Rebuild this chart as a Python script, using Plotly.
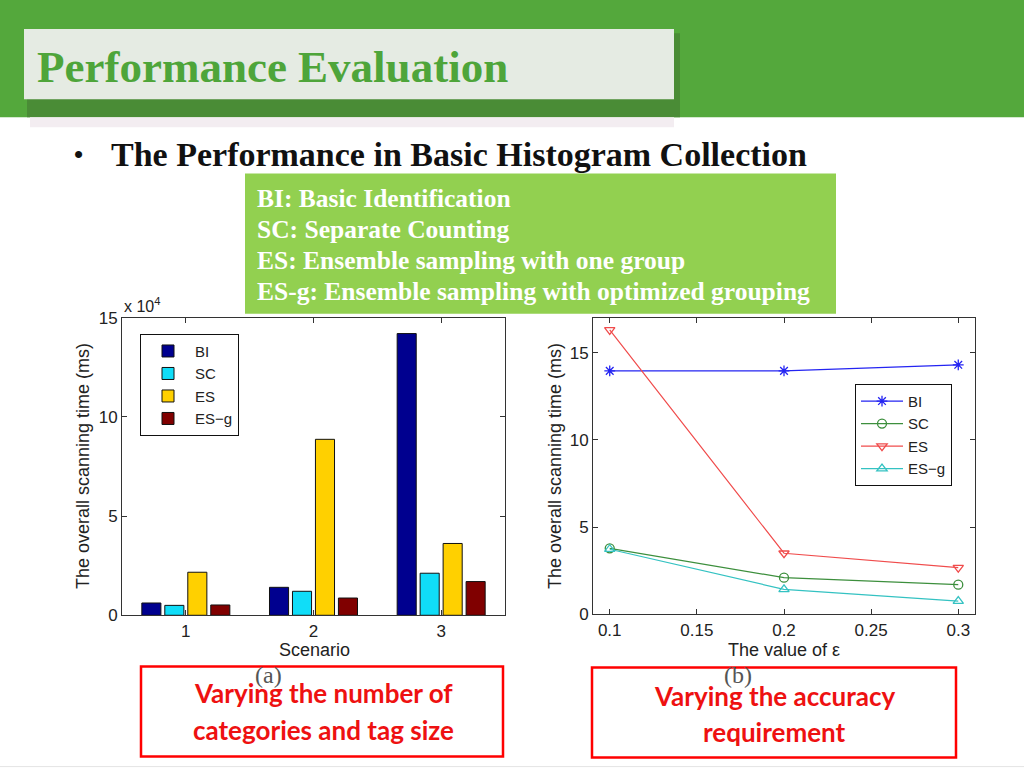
import plotly.graph_objects as go

W, H = 1024, 790

# ---------------- data ----------------
scenarios = [1, 2, 3]
scenario_ticks = ["1", "2", "3"]
bi_time = [0.62, 1.41, 14.2]      # x 10^4 ms
sc_time = [0.50, 1.21, 2.12]
es_time = [2.17, 8.87, 3.62]
esg_time = [0.52, 0.87, 1.70]

eps_values = [0.1, 0.2, 0.3]
eps_ticks = [0.1, 0.15, 0.2, 0.25, 0.3]
eps_tick_labels = ["0.1", "0.15", "0.2", "0.25", "0.3"]
bi_eps = [13.95, 13.95, 14.3]
sc_eps = [3.78, 2.1, 1.7]
es_eps = [16.3, 3.5, 2.67]
esg_eps = [3.73, 1.43, 0.76]
y_ticks = [0, 5, 10, 15]

series_names = ["BI", "SC", "ES", "ES\u2212g"]
bar_colors = ["#00008F", "#10DDF8", "#FFD000", "#800000"]
line_colors = ["#2424F2", "#3D8F3D", "#F04C4C", "#34C2C2"]
line_symbols = ["asterisk-open", "circle-open", "triangle-down-open", "triangle-up-open"]

# vertical correction for the capture (figure is shifted up by FIG_TOP px)
Y_OFF, Y_SCALE, FIG_TOP = 8.7, 0.974, 9

def px(x):
    return x / W

def py(y):
    yf = (y - Y_OFF) / Y_SCALE + FIG_TOP
    return min(1.0, max(0.0, 1 - yf / H))

fig = go.Figure()

# ---------------- bar chart (a) ----------------
for name, vals, col in zip(series_names, [bi_time, sc_time, es_time, esg_time], bar_colors):
    fig.add_trace(go.Bar(
        x=scenarios, y=vals, name=name, marker=dict(color=col, line=dict(color="#111", width=1)),
        xaxis="x", yaxis="y", legend="legend", showlegend=True))

# ---------------- line chart (b) ----------------
for name, vals, col, sym in zip(series_names, [bi_eps, sc_eps, es_eps, esg_eps], line_colors, line_symbols):
    fig.add_trace(go.Scatter(
        x=eps_values, y=vals, name=name, mode="lines+markers",
        line=dict(color=col, width=1.2),
        marker=dict(symbol=sym, size=9, color=col, line=dict(color=col, width=1.3)),
        xaxis="x2", yaxis="y2", legend="legend2"))

axis_common = dict(showline=True, linecolor="#333", linewidth=1, mirror="ticks",
                   ticks="inside", ticklen=5, tickcolor="#333", showgrid=False,
                   zeroline=False, tickfont=dict(family="Liberation Sans", size=17, color="#222"))

fig.update_layout(
    width=W, height=H, margin=dict(l=0, r=0, t=0, b=0),
    paper_bgcolor="white", plot_bgcolor="rgba(0,0,0,0)",
    barmode="group", bargap=0.28, bargroupgap=0.17,
    font=dict(family="Liberation Sans", color="#222"),
    xaxis=dict(domain=[px(122), px(505)], range=[0.5, 3.5], tickvals=scenarios,
               ticktext=scenario_ticks, anchor="y", **axis_common),
    yaxis=dict(domain=[py(614), py(317)], range=[0, 15], tickvals=y_ticks, anchor="x",
               **axis_common),
    xaxis2=dict(domain=[px(593), px(975)], range=[0.0904, 0.3096], tickvals=eps_ticks,
                ticktext=eps_tick_labels, anchor="y2", **axis_common),
    yaxis2=dict(domain=[py(613), py(317)], range=[0, 17], tickvals=y_ticks, anchor="x2",
                **axis_common),
    legend=dict(x=px(140), y=py(333), xanchor="left", yanchor="top",
                bordercolor="#111", borderwidth=1, bgcolor="white",
                font=dict(family="Liberation Sans", size=15, color="#222"),
                tracegroupgap=0, itemwidth=44),
    legend2=dict(x=px(855), y=py(383), xanchor="left", yanchor="top",
                 bordercolor="#111", borderwidth=1, bgcolor="white",
                 font=dict(family="Liberation Sans", size=15, color="#222"),
                 tracegroupgap=0, itemwidth=42),
)

shapes = []
# header band
shapes.append(dict(type="rect", xref="paper", yref="paper", x0=0, x1=1, y0=py(117), y1=1,
                   fillcolor="#54A83C", line=dict(width=0), layer="below"))
# title shadow
shapes.append(dict(type="rect", xref="paper", yref="paper", x0=px(27), x1=px(680), y0=py(117), y1=py(33),
                   fillcolor="#4A8C36", line=dict(width=0), layer="below"))
shapes.append(dict(type="rect", xref="paper", yref="paper", x0=px(30), x1=px(674), y0=py(127), y1=py(117),
                   fillcolor="#F3EDF1", line=dict(width=0), layer="below"))
# title box
shapes.append(dict(type="rect", xref="paper", yref="paper", x0=px(24), x1=px(674), y0=py(99), y1=py(29),
                   fillcolor="#E5EBE3", line=dict(width=0), layer="below"))
# green definitions box
shapes.append(dict(type="rect", xref="paper", yref="paper", x0=px(245), x1=px(836), y0=py(313), y1=py(173),
                   fillcolor="#92D050", line=dict(width=0), layer="above"))
# red boxes
shapes.append(dict(type="rect", xref="paper", yref="paper", x0=px(141), x1=px(503), y0=py(755), y1=py(665),
                   fillcolor="rgba(255,255,255,0)", line=dict(color="#FF0000", width=2.5), layer="above"))
shapes.append(dict(type="rect", xref="paper", yref="paper", x0=px(592), x1=px(956), y0=py(756), y1=py(666),
                   fillcolor="rgba(255,255,255,0)", line=dict(color="#FF0000", width=2.5), layer="above"))
# bottom faint line
shapes.append(dict(type="line", xref="paper", yref="paper", x0=0, x1=1, y0=py(765), y1=py(765),
                   line=dict(color="#E4E4E4", width=1), layer="below"))
fig.update_layout(shapes=shapes)

ann = []
serif = "Liberation Serif"
ann.append(dict(text="<b>Performance Evaluation</b>", x=px(35), y=py(67), xref="paper", yref="paper",
                xanchor="left", yanchor="middle", showarrow=False,
                font=dict(family=serif, size=45, color="#4EA53A")))
ann.append(dict(text="\u2022", x=px(72), y=py(154), xref="paper", yref="paper",
                xanchor="left", yanchor="middle", showarrow=False,
                font=dict(family="Liberation Sans", size=26, color="#111")))
ann.append(dict(text="<b>The Performance in Basic Histogram Collection</b>", x=px(109), y=py(154),
                xref="paper", yref="paper", xanchor="left", yanchor="middle", showarrow=False,
                font=dict(family=serif, size=34, color="#111")))
defs = ["BI: Basic Identification", "SC: Separate Counting",
        "ES: Ensemble sampling with one group", "ES-g: Ensemble sampling with optimized grouping"]
for i, t in enumerate(defs):
    ann.append(dict(text="<b>" + t + "</b>", x=px(255), y=py(198 + 31 * i), xref="paper", yref="paper",
                    xanchor="left", yanchor="middle", showarrow=False,
                    font=dict(family=serif, size=25.5, color="white")))
# axis titles
chart_font = dict(family="Liberation Sans", size=18, color="#222")
ann.append(dict(text="The overall scanning time (ms)", x=px(83), y=py(465), xref="paper", yref="paper",
                xanchor="center", yanchor="middle", textangle=-90, showarrow=False, font=chart_font))
ann.append(dict(text="Scenario", x=px(314), y=py(649), xref="paper", yref="paper",
                xanchor="center", yanchor="middle", showarrow=False, font=chart_font))
ann.append(dict(text="The overall scanning time (ms)", x=px(555), y=py(465), xref="paper", yref="paper",
                xanchor="center", yanchor="middle", textangle=-90, showarrow=False, font=chart_font))
ann.append(dict(text="The value of \u03b5", x=px(784), y=py(649), xref="paper", yref="paper",
                xanchor="center", yanchor="middle", showarrow=False, font=chart_font))
ann.append(dict(text="x 10<sup>4</sup>", x=px(122), y=py(304), xref="paper", yref="paper",
                xanchor="left", yanchor="middle", showarrow=False,
                font=dict(family="Liberation Sans", size=16, color="#222")))
# (a) (b)
ann.append(dict(text="(a)", x=px(268), y=py(674), xref="paper", yref="paper", showarrow=False,
                xanchor="center", yanchor="middle",
                font=dict(family=serif, size=24, color="#555")))
ann.append(dict(text="(b)", x=px(738), y=py(674), xref="paper", yref="paper", showarrow=False,
                xanchor="center", yanchor="middle",
                font=dict(family=serif, size=24, color="#555")))
# red box texts
red = dict(family="Lato", size=26, color="#EE1111")
for t, xx, yy in [("Varying the number of", 323, 692), ("categories and tag size", 323, 728),
                  ("Varying the accuracy", 774, 695), ("requirement", 774, 730)]:
    ann.append(dict(text="<b>" + t + "</b>", x=px(xx), y=py(yy), xref="paper", yref="paper",
                    xanchor="center", yanchor="middle", showarrow=False, font=red))
fig.update_layout(annotations=ann)

page_fix = (
    "document.documentElement.style.margin='0';"
    "document.documentElement.style.padding='0';"
    "document.documentElement.style.overflow='hidden';"
    "document.body.style.margin='0';"
    "document.body.style.padding='0';"
    "document.body.style.overflow='hidden';"
    "var gd=document.querySelector('.plotly-graph-div');"
    "gd.style.position='fixed';gd.style.left='0px';gd.style.top='-%dpx';" % FIG_TOP
)
fig.write_html("out.html", post_script=page_fix, config={"displayModeBar": False})
